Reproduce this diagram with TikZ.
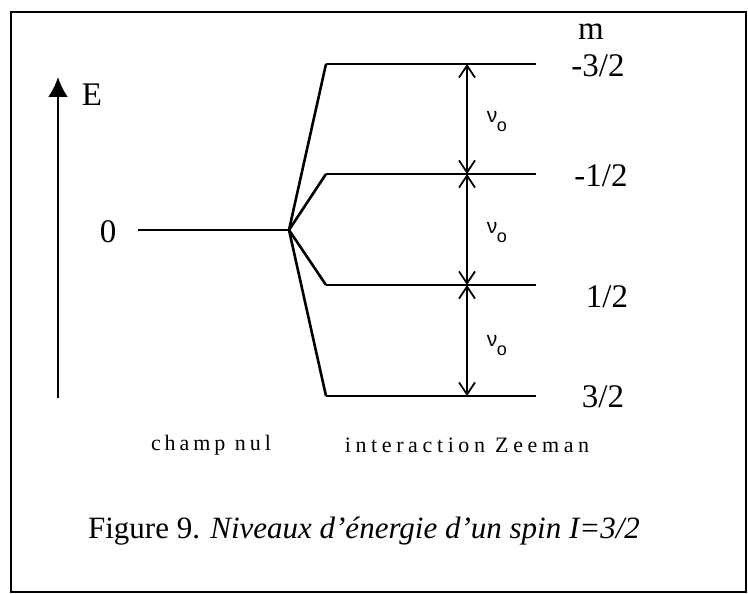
\documentclass[tikz,border=0pt]{standalone}
\usepackage{fontspec}
\setmainfont{Liberation Serif}
\newfontfamily\spacedA[LetterSpace=18]{Liberation Serif}
\newfontfamily\spacedB[LetterSpace=21]{Liberation Serif}
\newfontfamily\sanslbl{Liberation Sans}
\usetikzlibrary{arrows.meta}
\newcommand{\nuzero}{ν\kern-0.5pt\raisebox{-9pt}{\fontsize{18}{18}\selectfont o}}
\begin{document}
\begin{tikzpicture}[x=1pt,y=-1pt,
  level/.style={line width=2.8pt},
  branch/.style={line width=2.6pt},
  gap/.style={line width=1.3pt,{Straight Barb[length=12pt,width=16pt,line width=1.8pt]}-{Straight Barb[length=12pt,width=16pt,line width=1.8pt]}},
  lbl/.style={font=\fontsize{33}{36}\selectfont,inner sep=0pt},
  nu/.style={font=\sanslbl\fontsize{21}{23}\selectfont,inner sep=0pt},
  footA/.style={font=\spacedA\fontsize{22}{24}\selectfont,inner sep=0pt},
  footB/.style={font=\spacedB\fontsize{22}{24}\selectfont,inner sep=0pt}]
\useasboundingbox (0,0) rectangle (748,594);
% frame
\draw[line width=2pt] (11,12) rectangle (746,592);
% energy axis
\coordinate (ebot) at (58,398);
\coordinate (etop) at (58,77);
\draw[line width=2.8pt,-{Latex[length=20pt,width=20pt]}] (ebot) -- (etop);
\node[lbl] (E) at (92,95) {E};
% zero-field level
\node[lbl] (zero) at (108,232) {0};
\coordinate (z0) at (138,230);
\coordinate (fork) at (289,230);
\draw[level] (z0) -- (fork);
% Zeeman levels
\foreach \n/\y in {a/64,b/174,c/285,d/396}{
  \coordinate (\n1) at (326,\y);
  \coordinate (\n2) at (536,\y);
  \coordinate (\n m) at (467,\y);
  \draw[branch,line join=round] (fork) -- (\n1);
  \draw[level] (\n1) -- (\n2);
}
% level spacings
\draw[gap] (am) -- (bm);
\draw[gap] (bm) -- (cm);
\draw[gap] (cm) -- (dm);
\node[nu] (nu1) at (497,122) {\nuzero};
\node[nu] (nu2) at (497,233) {\nuzero};
\node[nu] (nu3) at (497,346) {\nuzero};
% quantum numbers
\node[lbl] (m) at (591,32) {m};
\node[lbl] (m1) at (598,66) {-3/2};
\node[lbl] (m2) at (601,176) {-1/2};
\node[lbl] (m3) at (607,297) {1/2};
\node[lbl] (m4) at (603,397) {3/2};
% captions
\node[footA] (champ) at (211,445) {champ nul};
\node[footB] (zee) at (467,445) {interaction Zeeman};
\node[font=\fontsize{31}{34}\selectfont,inner sep=0pt] (cap) at (364,531)
  {Figure 9. \textit{Niveaux d'énergie d'un spin I=3/2}};
\end{tikzpicture}
\end{document}
